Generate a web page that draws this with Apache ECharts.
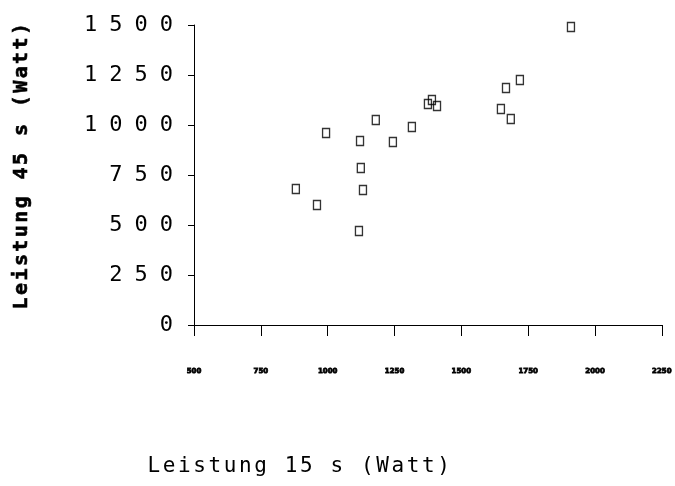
<!DOCTYPE html>
<html>
<head>
<meta charset="utf-8">
<title>Leistung 15 s / 45 s</title>
<script src="https://cdn.jsdelivr.net/npm/echarts@6/dist/echarts.min.js"></script>
<style>
  html, body { margin: 0; padding: 0; background: #fff; }
  #chart { width: 675px; height: 486px; }
</style>
</head>
<body>
<div id="chart"></div>
<script>
// Power output over 15 s (x) against power output over 45 s (y), in watts
const power15s = [1910, 1719, 1667, 1648, 1685, 1390, 1375, 1409, 1180, 1315, 1244, 1121, 994, 1124, 1132, 881, 960, 1117];
const power45s = [1490, 1225, 1185, 1080, 1030, 1125, 1105, 1095, 1025, 990, 915, 920, 960, 785, 675, 680, 600, 470];

const xTickLabels = [500, 750, 1000, 1250, 1500, 1750, 2000, 2250];
const yTickLabels = [0, 250, 500, 750, 1000, 1250, 1500];

const xTitle = 'Leistung 15 s (Watt)';
const yTitle = 'Leistung 45 s (Watt)';

// Plotter-style lettering: wide tracking keyed by font size
const TRACKING = { '22': 12, '21': 2.6, '20': 2.4 };
['fillText', 'strokeText', 'measureText'].forEach(function (fn) {
  const orig = CanvasRenderingContext2D.prototype[fn];
  CanvasRenderingContext2D.prototype[fn] = function () {
    const m = /(\d+(?:\.\d+)?)px/.exec(this.font);
    const s = m && TRACKING[m[1]] ? TRACKING[m[1]] : 0;
    try { this.letterSpacing = s + 'px'; } catch (e) {}
    return orig.apply(this, arguments);
  };
});

const points = power15s.map(function (x, i) { return [x, power45s[i]]; });

const chart = echarts.init(document.getElementById('chart'), null, { renderer: 'canvas' });
chart.setOption({
  backgroundColor: '#fff',
  animation: false,
  grid: { left: 194, right: 13, top: 25, bottom: 161 },
  xAxis: {
    type: 'value',
    min: xTickLabels[0],
    max: xTickLabels[xTickLabels.length - 1],
    interval: 250,
    axisLine: { lineStyle: { color: '#000', width: 1 } },
    axisTick: { show: true, length: 11, lineStyle: { color: '#000', width: 1 } },
    axisLabel: {
      margin: 43,
      color: '#000',
      fontSize: 7,
      fontWeight: 'bold',
      fontFamily: 'DejaVu Sans',
      textBorderColor: '#000',
      textBorderWidth: 0.8,
      formatter: function (v) { return String(v); }
    },
    splitLine: { show: false }
  },
  yAxis: {
    type: 'value',
    min: yTickLabels[0],
    max: yTickLabels[yTickLabels.length - 1],
    interval: 250,
    axisLine: { show: true, lineStyle: { color: '#000', width: 1 } },
    axisTick: { show: true, length: 6, lineStyle: { color: '#000', width: 1 } },
    axisLabel: {
      margin: 9,
      color: '#000',
      fontSize: 22,
      fontFamily: 'DejaVu Sans Mono',
      formatter: function (v) { return String(v); }
    },
    splitLine: { show: false }
  },
  graphic: [
    {
      type: 'text',
      x: 300,
      y: 467,
      style: {
        text: xTitle,
        fontSize: 21,
        fontFamily: 'DejaVu Sans Mono',
        fill: '#000',
        align: 'center',
        verticalAlign: 'middle'
      }
    },
    {
      type: 'text',
      x: 22,
      y: 165,
      rotation: Math.PI / 2,
      style: {
        text: yTitle,
        fontSize: 20,
        fontWeight: 'bold',
        fontFamily: 'DejaVu Sans Mono',
        fill: '#000',
        stroke: '#000',
        lineWidth: 0.6,
        align: 'center',
        verticalAlign: 'middle'
      }
    }
  ],
  series: [{
    type: 'scatter',
    data: points,
    symbol: 'rect',
    symbolSize: [7, 9],
    itemStyle: { color: 'rgba(0,0,0,0)', borderColor: '#000', borderWidth: 1.5 }
  }]
});
</script>
</body>
</html>
